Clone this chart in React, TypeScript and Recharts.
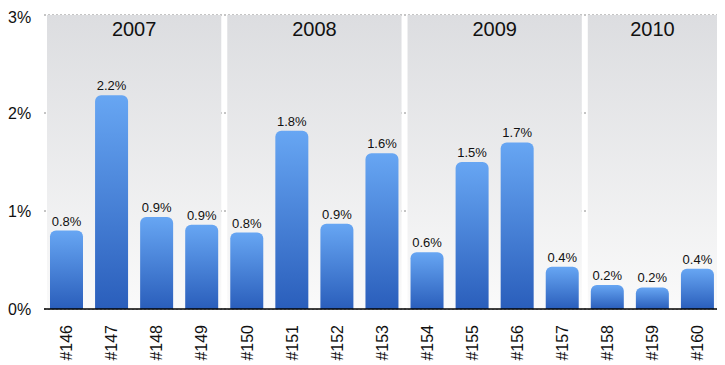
import React from 'react';
import { BarChart, Bar, XAxis, YAxis, CartesianGrid, ReferenceArea, LabelList } from 'recharts';

const categories = ['#146', '#147', '#148', '#149', '#150', '#151', '#152', '#153', '#154', '#155', '#156', '#157', '#158', '#159', '#160'];
const values = [0.8, 2.18, 0.94, 0.86, 0.78, 1.82, 0.87, 1.59, 0.58, 1.5, 1.7, 0.43, 0.245, 0.22, 0.41];
const yearLabels = ['2007', '2008', '2009', '2010'];
const yearStart = ['#146', '#150', '#154', '#158'];
const yearEnd = ['#149', '#153', '#157', '#160'];
const yTicks = [0, 1, 2, 3];

const data = categories.map((c, i) => ({ name: c, value: values[i] }));
const FONT = '"Liberation Sans", Arial, Helvetica, sans-serif';

const BandShape = (props: any) => {
  const { x, y, width, height } = props;
  return <rect x={x + 3} y={y} width={Math.max(0, width - 6)} height={height} fill="url(#bandGrad)" />;
};

const XTick = (props: any) => {
  const { x, y, payload } = props;
  return (
    <g transform={`translate(${x},${y})`}>
      <text transform="rotate(-90)" x={-8} y={0} dy="0.36em" textAnchor="end" fontSize={16} fill="#111" fontFamily={FONT}>
        {payload.value}
      </text>
    </g>
  );
};

const YTick = (props: any) => {
  const { y, payload } = props;
  return (
    <text x={0} y={y} dy="0.36em" textAnchor="start" fontSize={16} fill="#111" fontFamily={FONT}>
      {payload.value + '%'}
    </text>
  );
};

export default function App() {
  return (
    <BarChart width={717} height={357} data={data} margin={{ top: 7, right: 5, bottom: 0, left: 0 }} barSize={33}>
      <defs>
        <linearGradient id="bandGrad" x1="0" y1="0" x2="0" y2="1">
          <stop offset="0%" stopColor="#dcdde0" />
          <stop offset="100%" stopColor="#fafafa" />
        </linearGradient>
        <linearGradient id="barGrad" x1="0" y1="0" x2="0" y2="1">
          <stop offset="0%" stopColor="#67a6f3" />
          <stop offset="100%" stopColor="#2a5ebb" />
        </linearGradient>
      </defs>
      {yearLabels.map((yl, i) => (
        <ReferenceArea
          key={yl}
          x1={yearStart[i]}
          x2={yearEnd[i]}
          y1={0}
          y2={3}
          ifOverflow="visible"
          shape={BandShape}
          label={{ value: yl, position: 'insideTop', offset: 7, fontSize: 20, fill: '#111', fontFamily: FONT }}
        />
      ))}
      <CartesianGrid vertical={false} stroke="#8a8a8a" strokeDasharray="2 2" />
      <XAxis dataKey="name" interval={0} tick={<XTick />} tickLine={false} axisLine={{ stroke: '#000', strokeWidth: 1.5 }} height={56} />
      <YAxis domain={[0, 3]} ticks={yTicks} tick={<YTick />} tickLine={false} axisLine={false} width={36} />
      <Bar dataKey="value" fill="url(#barGrad)" radius={[6, 6, 0, 0]} isAnimationActive={false}>
        <LabelList dataKey="value" position="top" offset={5} fontSize={13} fill="#111" fontFamily={FONT} formatter={(v: any) => Number(v).toFixed(1) + '%'} />
      </Bar>
    </BarChart>
  );
}
